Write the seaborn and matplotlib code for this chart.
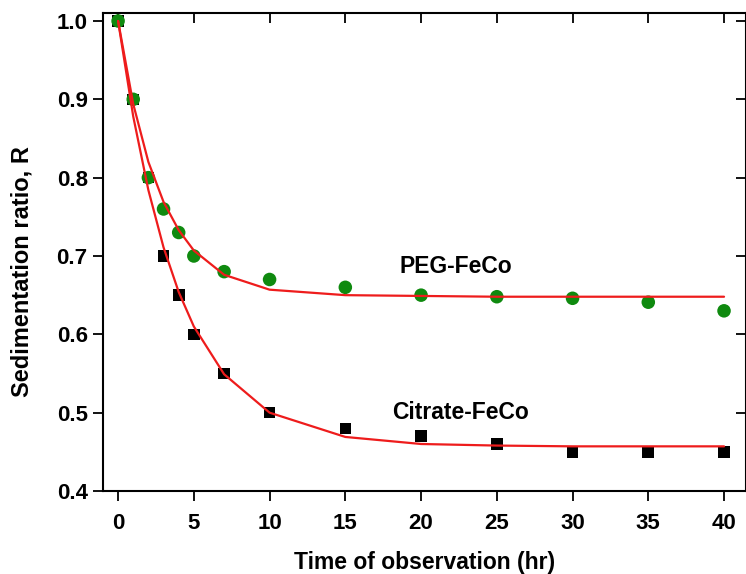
import matplotlib
matplotlib.use("Agg")
import matplotlib.pyplot as plt
import seaborn as sns
import pandas as pd

sns.set_style("ticks")
plt.rcParams['font.family'] = ['Liberation Sans', 'DejaVu Sans']
plt.rcParams['font.weight'] = 'bold'
plt.rcParams['text.color'] = 'black'
plt.rcParams['axes.labelcolor'] = 'black'
plt.rcParams['xtick.color'] = 'black'
plt.rcParams['ytick.color'] = 'black'

time_hr = [0, 1, 2, 3, 4, 5, 7, 10, 15, 20, 25, 30, 35, 40]
peg_ratio = [1.0, 0.9, 0.8, 0.76, 0.73, 0.70, 0.68, 0.67, 0.66, 0.65, 0.648, 0.646, 0.641, 0.63]
citrate_ratio = [1.0, 0.9, 0.8, 0.70, 0.65, 0.60, 0.55, 0.50, 0.48, 0.47, 0.46, 0.45, 0.45, 0.45]
peg_fit = [1.0, 0.894, 0.820, 0.769, 0.733, 0.707, 0.676, 0.657, 0.650, 0.649, 0.648, 0.648, 0.648, 0.648]
citrate_fit = [1.0, 0.878, 0.784, 0.711, 0.654, 0.610, 0.549, 0.500, 0.469, 0.460, 0.458, 0.457, 0.457, 0.457]

x_ticks = [0, 5, 10, 15, 20, 25, 30, 35, 40]
y_ticks = [0.4, 0.5, 0.6, 0.7, 0.8, 0.9, 1.0]

df = pd.DataFrame({"t": time_hr, "peg": peg_ratio, "cit": citrate_ratio,
                   "peg_fit": peg_fit, "cit_fit": citrate_fit})

fig = plt.figure(figsize=(7.46, 5.74), dpi=100)
ax = fig.add_axes([0.138, 0.1446, 0.862, 0.8325])

sns.scatterplot(data=df, x="t", y="cit", marker="s", s=70, color="black",
                edgecolor="none", ax=ax, zorder=3)
sns.scatterplot(data=df, x="t", y="peg", marker="o", s=95, color="#0f8a0f",
                edgecolor="none", ax=ax, zorder=3)
sns.lineplot(data=df, x="t", y="cit_fit", color="#ee1c1c", lw=1.6, ax=ax, zorder=4)
sns.lineplot(data=df, x="t", y="peg_fit", color="#ee1c1c", lw=1.6, ax=ax, zorder=4)

ax.set_xlim(-1, 41.45)
ax.set_ylim(0.4, 1.01)
ax.set_xticks(x_ticks)
ax.set_yticks(y_ticks)
ax.set_xticklabels([str(v) for v in x_ticks])
ax.set_yticklabels([f"{v:.1f}" for v in y_ticks])

for s in ax.spines.values():
    s.set_visible(True)
    s.set_linewidth(1.5)
    s.set_color("black")

ax.tick_params(axis="both", which="major", direction="out", length=7, width=1.3,
               labelsize=16, colors="black")
ax.tick_params(axis="x", pad=9)
ax.tick_params(axis="y", pad=4)
ax.tick_params(top=True, right=True)
# inward ticks on top/right
for t in ax.xaxis.get_major_ticks():
    t.tick2line.set_marker(matplotlib.lines.TICKDOWN)
for t in ax.yaxis.get_major_ticks():
    t.tick2line.set_marker(matplotlib.lines.TICKLEFT)
for lab in ax.get_xticklabels() + ax.get_yticklabels():
    lab.set_fontweight("bold")

ax.set_xlabel("Time of observation (hr)", fontsize=16.5, fontweight="bold", labelpad=12)
ax.set_ylabel("Sedimentation ratio, R", fontsize=17, fontweight="bold")
ax.yaxis.set_label_coords(-0.108, 0.46)

ax.text(18.6, 0.687, "PEG-FeCo", fontsize=16.5, fontweight="bold", va="center", ha="left")
ax.text(18.1, 0.500, "Citrate-FeCo", fontsize=16.5, fontweight="bold", va="center", ha="left")

fig.savefig("out.png", dpi=100)
